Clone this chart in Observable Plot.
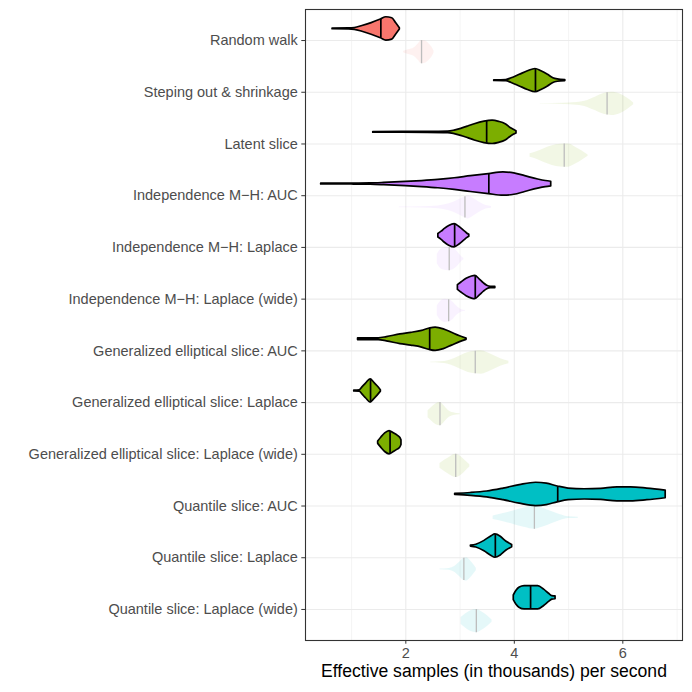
<!DOCTYPE html>
<html>
<head>
<meta charset="utf-8">
<script src="https://cdn.jsdelivr.net/npm/d3@7"></script>
<script src="https://cdn.jsdelivr.net/npm/@observablehq/plot@0.6"></script>
<style>
  html, body { margin: 0; padding: 0; background: #ffffff; }
  #chart svg { display: block; }
</style>
</head>
<body>
<div id="chart"></div>
<script>
// Categories (top to bottom)
const categories = [
  "Random walk",
  "Steping out & shrinkage",
  "Latent slice",
  "Independence M\u2212H: AUC",
  "Independence M\u2212H: Laplace",
  "Independence M\u2212H: Laplace (wide)",
  "Generalized elliptical slice: AUC",
  "Generalized elliptical slice: Laplace",
  "Generalized elliptical slice: Laplace (wide)",
  "Quantile slice: AUC",
  "Quantile slice: Laplace",
  "Quantile slice: Laplace (wide)"
];
const groups = [
  "Random walk", "Slice", "Slice",
  "Independence M-H", "Independence M-H", "Independence M-H",
  "Slice", "Slice", "Slice",
  "Quantile slice", "Quantile slice", "Quantile slice"
];
const groupDomain = ["Random walk", "Slice", "Independence M-H", "Quantile slice"];
const palette = ["#F8766D", "#7CAE00", "#C77CFF", "#00BFC4"];

// Violin profiles: [value, relative half-width]
const mainProfiles = [
  [[0.65,0.03],[0.95,0.04],[1.06,0.08],[1.2,0.25],[1.37,0.5],[1.54,0.8],[1.64,1.0],[1.75,0.92],[1.82,0.5],[1.89,0.05]],
  [[3.63,0.03],[3.85,0.05],[3.95,0.2],[4.1,0.5],[4.25,0.8],[4.39,1.0],[4.5,0.8],[4.62,0.5],[4.72,0.2],[4.8,0.1],[4.94,0.04]],
  [[1.40,0.03],[2.4,0.04],[2.78,0.06],[2.9,0.15],[3.02,0.3],[3.15,0.5],[3.27,0.7],[3.45,0.92],[3.6,1.0],[3.72,0.9],[3.84,0.7],[3.94,0.35],[4.04,0.1]],
  [[0.44,0.03],[1.0,0.04],[1.35,0.06],[1.6,0.1],[2.0,0.18],[2.3,0.26],[2.6,0.36],[2.9,0.5],[3.2,0.68],[3.53,0.86],[3.8,1.0],[4.0,0.92],[4.2,0.68],[4.44,0.39],[4.58,0.26],[4.68,0.2]],
  [[2.6,0.15],[2.66,0.35],[2.72,0.6],[2.8,0.85],[2.9,1.0],[2.99,0.75],[3.08,0.4],[3.13,0.2],[3.17,0.08]],
  [[2.96,0.2],[3.03,0.45],[3.12,0.75],[3.22,0.95],[3.28,1.0],[3.36,0.7],[3.44,0.35],[3.5,0.15],[3.57,0.06],[3.65,0.05]],
  [[1.12,0.07],[1.5,0.08],[1.65,0.18],[1.9,0.42],[2.1,0.55],[2.3,0.72],[2.44,0.92],[2.55,1.0],[2.7,0.85],[2.85,0.55],[3.0,0.25],[3.12,0.05]],
  [[1.05,0.04],[1.15,0.06],[1.2,0.3],[1.27,0.65],[1.35,1.0],[1.42,0.7],[1.48,0.4],[1.54,0.06]],
  [[1.49,0.1],[1.55,0.45],[1.62,0.8],[1.7,1.0],[1.78,0.8],[1.85,0.6],[1.9,0.4],[1.92,0.2]],
  [[2.91,0.05],[3.2,0.12],[3.5,0.25],[3.8,0.5],[4.1,0.8],[4.4,1.0],[4.6,0.92],[4.8,0.68],[5.0,0.5],[5.3,0.44],[5.6,0.48],[5.9,0.6],[6.15,0.6],[6.45,0.5],[6.79,0.33]],
  [[3.2,0.04],[3.3,0.12],[3.45,0.45],[3.58,0.85],[3.65,1.0],[3.75,0.8],[3.85,0.4],[3.96,0.1]],
  [[3.99,0.2],[4.04,0.6],[4.1,0.88],[4.19,1.0],[4.44,1.0],[4.55,0.7],[4.64,0.35],[4.7,0.15],[4.76,0.12]]
];
const fadedProfiles = [
  [[1.96,0.05],[2.05,0.2],[2.15,0.35],[2.23,0.7],[2.29,1.0],[2.36,0.95],[2.43,0.7],[2.49,0.35],[2.52,0.08]],
  [[4.48,0.02],[4.9,0.05],[5.15,0.12],[5.35,0.3],[5.5,0.6],[5.65,0.9],[5.8,1.0],[5.95,0.85],[6.08,0.5],[6.2,0.08]],
  [[4.29,0.15],[4.4,0.3],[4.55,0.6],[4.7,0.85],[4.85,0.97],[5.0,1.0],[5.12,0.75],[5.25,0.4],[5.36,0.06]],
  [[1.88,0.03],[2.3,0.05],[2.6,0.12],[2.8,0.3],[2.96,0.6],[3.09,0.9],[3.15,1.0],[3.25,0.75],[3.35,0.45],[3.48,0.15],[3.58,0.08]],
  [[2.58,0.4],[2.62,0.7],[2.7,0.95],[2.8,1.0],[2.88,0.9],[2.95,0.65],[3.0,0.35],[3.07,0.05]],
  [[2.58,0.4],[2.64,0.8],[2.72,1.0],[2.8,0.95],[2.88,0.7],[2.95,0.35],[3.02,0.12],[3.1,0.03]],
  [[2.46,0.03],[2.65,0.06],[2.78,0.15],[2.9,0.35],[3.02,0.6],[3.15,0.85],[3.28,0.97],[3.39,1.0],[3.5,0.85],[3.64,0.55],[3.76,0.3],[3.9,0.1]],
  [[2.41,0.3],[2.48,0.6],[2.56,0.9],[2.63,1.0],[2.7,0.75],[2.78,0.35],[2.88,0.12],[3.0,0.04]],
  [[2.63,0.2],[2.72,0.5],[2.82,0.8],[2.92,1.0],[3.02,0.8],[3.1,0.45],[3.18,0.1]],
  [[3.61,0.15],[3.8,0.35],[4.0,0.6],[4.2,0.85],[4.37,1.0],[4.5,0.85],[4.7,0.5],[4.85,0.25],[5.0,0.08],[5.18,0.04]],
  [[2.63,0.03],[2.8,0.08],[2.9,0.25],[3.0,0.65],[3.07,0.95],[3.12,1.0],[3.2,0.7],[3.27,0.3],[3.3,0.1]],
  [[3.02,0.3],[3.1,0.6],[3.2,0.9],[3.3,1.0],[3.42,0.75],[3.52,0.4],[3.59,0.1]]
];
// Medians: [value, relative half-width at the median]
const mainMedians = [
  [1.54,0.8],[4.39,1.0],[3.49,0.94],[3.53,0.86],[2.9,0.97],[3.28,1.0],
  [2.44,0.92],[1.35,1.0],[1.71,0.95],[4.80,0.66],[3.65,1.0],[4.30,1.0]
];
const fadedMedians = [
  [2.29,1.0],[5.71,0.95],[4.92,1.0],[3.09,0.92],[2.8,1.0],[2.79,0.95],
  [3.28,0.97],[2.63,1.0],[2.92,1.0],[4.37,1.0],[3.07,0.95],[3.30,1.0]
];
const xTicks = [2, 4, 6];
const xMinorTicks = [1, 3, 5, 7];
const xTitle = "Effective samples (in thousands) per second";

// Build tables
const catIndex = categories.map((c, i) => i + 1);
const half = 0.225; // dodge offset & max half-width (ggplot width 0.9 / 2 groups)
const toRows = (profiles, off) => profiles.flatMap((p, i) =>
  p.map(([v, w]) => ({i, group: groups[i], v, lo: i + 1 + off - w * half, hi: i + 1 + off + w * half})));
const mainRows = toRows(mainProfiles, -half);
const fadedRows = toRows(fadedProfiles, half);
const medRows = (meds, off) => meds.map(([v, w], i) => ({v, lo: i + 1 + off - w * half, hi: i + 1 + off + w * half}));

const chart = Plot.plot({
  width: 692,
  height: 692,
  marginLeft: 305,
  marginRight: 10,
  marginTop: 9,
  marginBottom: 52,
  style: {background: "#ffffff", fontFamily: "'Liberation Sans', Arial, sans-serif", fontSize: "14.5px"},
  x: {domain: [0.151, 7.1], axis: null},
  y: {domain: [12.6, 0.4], axis: null},
  color: {domain: groupDomain, range: palette},
  marks: [
    Plot.ruleX(xMinorTicks, {stroke: "#EBEBEB", strokeWidth: 0.55}),
    Plot.ruleX(xTicks, {stroke: "#EBEBEB", strokeWidth: 1.1}),
    Plot.ruleY(catIndex, {stroke: "#EBEBEB", strokeWidth: 1.1}),
    Plot.areaY(fadedRows, {x: "v", y1: "lo", y2: "hi", z: "i", fill: "group", fillOpacity: 0.1, curve: "monotone-x"}),
    Plot.ruleX(medRows(fadedMedians, half), {x: "v", y1: "lo", y2: "hi", stroke: "#BDBDBD", strokeWidth: 1.3}),
    Plot.areaY(mainRows, {x: "v", y1: "lo", y2: "hi", z: "i", fill: "group", stroke: "black", strokeWidth: 1.7, strokeLinejoin: "round", curve: "monotone-x"}),
    Plot.ruleX(medRows(mainMedians, -half), {x: "v", y1: "lo", y2: "hi", stroke: "black", strokeWidth: 1.7}),
    Plot.frame({stroke: "#333333", strokeWidth: 1.1}),
    Plot.axisY(catIndex, {tickFormat: d => categories[d - 1], tickSize: 3.7, tickPadding: 4, fill: "#4D4D4D", stroke: "#333333", label: null}),
    Plot.axisX(xTicks, {tickSize: 3.7, tickPadding: 3.5, fill: "#4D4D4D", stroke: "#333333", label: null}),
    Plot.text([xTitle], {text: d => d, frameAnchor: "bottom", dy: 36, fontSize: 17.6, fill: "#000000"})
  ]
});
document.getElementById("chart").appendChild(chart);
</script>
</body>
</html>
